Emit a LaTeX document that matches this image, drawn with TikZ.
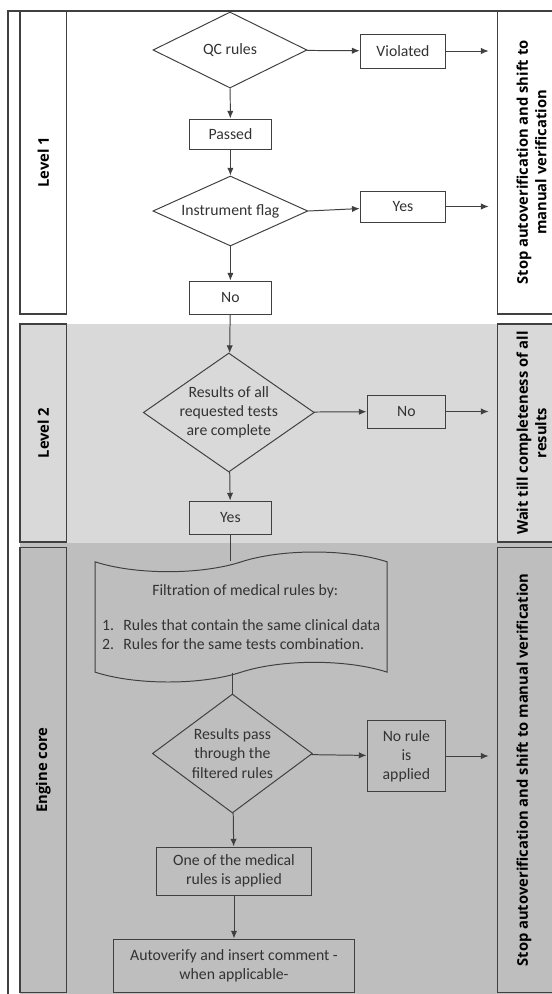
\documentclass[tikz,border=0pt]{standalone}
\usepackage{fontspec}
\setmainfont{Carlito}
\newfontfamily\lanefont{Open Sans}
\usepackage{xcolor}
\usetikzlibrary{arrows.meta,shapes.geometric,shapes.symbols}

\definecolor{edge}{HTML}{404040}
\definecolor{ink}{HTML}{333333}
\definecolor{lvtwo}{HTML}{D9D9D9}
\definecolor{core}{HTML}{BEBEBF}

\begin{document}
\begin{tikzpicture}[
  font=\fontsize{11.2}{13.6}\selectfont,
  >={Latex[length=5.5pt,width=4.5pt]},
  box/.style={draw=edge, line width=0.7pt, align=center, inner sep=2pt, text=ink},
  decision/.style={diamond, draw=edge, line width=0.7pt, inner sep=0pt},
  dtext/.style={align=center, text=ink, inner sep=0pt},
  lane/.style={draw=edge, line width=1pt, rotate=90, fill=#1, align=center,
    font=\lanefont\bfseries\fontsize{10.5}{13.2}\selectfont},
  arr/.style={->, line width=0.7pt, edge},
  link/.style={line width=0.7pt, edge},
]
\clip (0,0) rectangle (13.8,-24.85);

% swim lanes
\fill[lvtwo] (0.5,-8.1) rectangle (14.3,-13.575);
\fill[core] (0.5,-13.575) rectangle (14.3,-24.9);
\draw[edge, line width=1pt] (0.2,-24.9) -- (0.2,-0.28) -- (14.3,-0.28);

\node[lane=white, minimum width=7.575cm, minimum height=1.167cm] (lv1) at (1.084,-4.06) {Level 1};
\node[lane=lvtwo, minimum width=5.45cm, minimum height=1.167cm] (lv2) at (1.084,-10.825) {Level 2};
\node[lane=core, minimum width=11.125cm, minimum height=1.167cm] (eng) at (1.084,-19.25) {Engine core};

\node[lane=white, minimum width=7.575cm, minimum height=1.71cm] (s1) at (13.29,-4.06) {Stop autoverification and shift to\\manual verification};
\node[lane=lvtwo, minimum width=5.45cm, minimum height=1.71cm] (s2) at (13.29,-10.825) {Wait till completeness of all\\results};
\node[lane=core, minimum width=11.125cm, minimum height=1.71cm] (s3) at (13.29,-19.25) {Stop autoverification and shift to manual verification\\\mbox{}};

% level 1
\node[decision, minimum width=3.85cm, minimum height=1.9cm, label={[dtext]center:QC rules}] (qc) at (5.75,-1.25) {};
\node[box, minimum width=2.14cm, minimum height=0.85cm] (viol) at (10.075,-1.275) {Violated};
\node[box, minimum width=2.03cm, minimum height=0.75cm] (pass) at (5.76,-3.35) {Passed};
\node[decision, minimum width=3.875cm, minimum height=1.75cm, label={[dtext]center:Instrument flag}] (flag) at (5.76,-5.275) {};
\node[box, minimum width=2.14cm, minimum height=0.775cm] (yes1) at (10.075,-5.1625) {Yes};
\node[box, minimum width=2.03cm, minimum height=0.825cm] (no1) at (5.76,-7.4375) {No};

\draw[arr] (qc) -- (viol);
\draw[arr, shorten >=0.2cm] (viol) -- (viol -| s1.north);
\draw[arr] (qc) -- (pass);
\draw[arr] (pass) -- (flag);
\draw[arr] (flag.east) -- (yes1);
\draw[arr, shorten >=0.2cm] (yes1) -- (yes1 -| s1.north);
\draw[arr] (flag) -- (no1);

% level 2
\node[decision, minimum width=4.275cm, minimum height=2.975cm, label={[dtext]center:{Results of all\\requested tests\\are complete}}] (done) at (5.72,-10.3125) {};
\node[box, minimum width=1.97cm, minimum height=0.825cm] (no2) at (10.16,-10.2875) {No};
\node[box, minimum width=2.03cm, minimum height=0.825cm] (yes2) at (5.76,-12.9375) {Yes};

\draw[arr] (no1) -- (done);
\draw[arr] (done) -- (no2);
\draw[arr, shorten >=0.2cm] (no2) -- (no2 -| s2.north);
\draw[arr] (done) -- (yes2);

% engine core
\node[tape, draw=edge, line width=0.7pt, tape bend height=14pt, minimum width=7.3cm, minimum height=3.25cm, align=left, text=ink] (filt) at (6.03,-15.425)
  {\makebox[6.8cm]{\hspace{0.35cm}Filtration of medical rules by:}\\[11pt]
   \makebox[0.53cm][l]{1.}Rules that contain the same clinical data\\
   \makebox[0.53cm][l]{2.}Rules for the same tests combination.};
\node[decision, minimum width=4.0cm, minimum height=2.975cm, label={[dtext]center:{Results pass\\through the\\filtered rules}}] (pass3) at (5.81,-18.8375) {};
\node[box, minimum width=1.97cm, minimum height=1.775cm] (norule) at (10.16,-18.9) {No rule\\is\\applied};
\node[box, minimum width=3.86cm, minimum height=1.2cm] (one) at (5.85,-21.775) {One of the medical\\rules is applied};
\node[box, minimum width=6.04cm, minimum height=1.325cm] (auto) at (5.85,-24.1375) {Autoverify and insert comment -\\when applicable-};

\draw[link] (yes2) -- (yes2 |- filt.north);
\draw[link] (filt.south -| pass3) -- (pass3);
\draw[arr] (pass3) -- (norule);
\draw[arr, shorten >=0.2cm] (norule) -- (norule -| s3.north);
\draw[arr] (pass3) -- (one);
\draw[arr] (one) -- (auto);
\end{tikzpicture}
\end{document}
